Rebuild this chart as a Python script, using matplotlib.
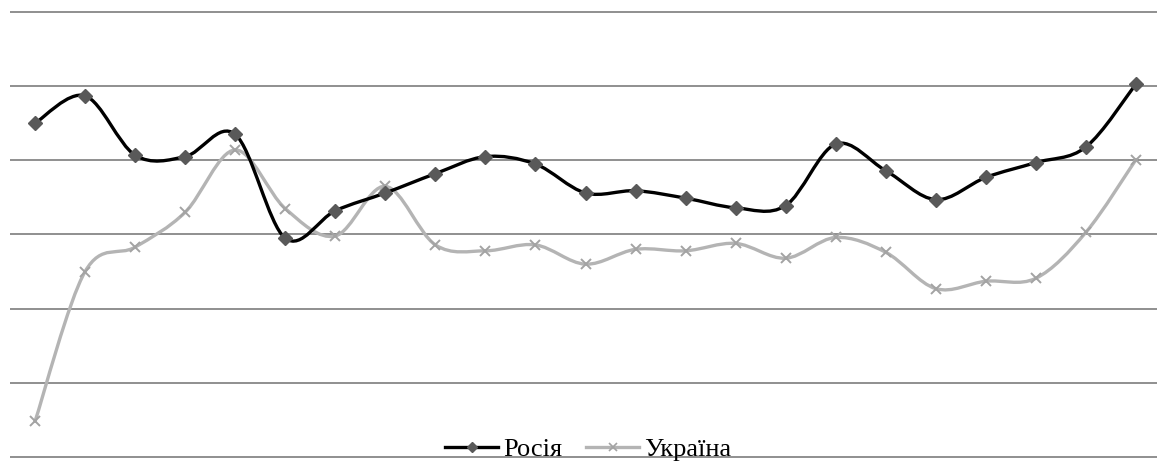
import matplotlib
matplotlib.use("Agg")
import matplotlib.pyplot as plt
import numpy as np
from matplotlib.lines import Line2D
from matplotlib.patches import PathPatch
from matplotlib.path import Path

plt.rcParams["font.family"] = ["Liberation Serif", "DejaVu Serif"]

# values (units = gridline steps, 0 at the bottom line)
periods = list(range(23))
russia = [4.50, 4.87, 4.07, 4.05, 4.35, 2.95, 3.32, 3.56, 3.82, 4.05, 3.95, 3.56,
          3.59, 3.49, 3.36, 3.39, 4.22, 3.86, 3.47, 3.77, 3.97, 4.18, 5.03]
ukraine = [0.48, 2.50, 2.83, 3.30, 4.14, 3.35, 2.98, 3.65, 2.86, 2.78, 2.86, 2.60,
           2.80, 2.78, 2.88, 2.68, 2.96, 2.76, 2.27, 2.37, 2.41, 3.03, 4.01]
labels = ["Росія", "Україна"]

W, H = 1157, 461


def smooth_path(xs, ys):
    # Excel style smoothed line: cubic Bezier through every point
    p = np.column_stack([xs, ys]).astype(float)
    ext = np.vstack([p[0], p, p[-1]])
    verts = [p[0]]
    codes = [Path.MOVETO]
    for i in range(len(p) - 1):
        c1 = ext[i + 1] + (ext[i + 2] - ext[i]) / 6
        c2 = ext[i + 2] - (ext[i + 3] - ext[i + 1]) / 6
        verts += [c1, c2, p[i + 1]]
        codes += [Path.CURVE4] * 3
    return Path(verts, codes)


fig = plt.figure(figsize=(W / 100, H / 100), dpi=100)
pad = 0.05
px_per_unit = (457 - 12) / 6
bottom = (H - 457 - pad * px_per_unit) / H
height = (445 + 2 * pad * px_per_unit) / H
ax = fig.add_axes([10 / W, bottom, 1151 / W, height])
ax.set_xlim(-0.5, 22.5)
ax.set_ylim(-pad, 6 + pad)

ax.set_yticks(range(7))
ax.set_xticks([])
ax.tick_params(length=0, labelleft=False)
ax.grid(axis="y", color="#878787", linewidth=1.3)
ax.set_axisbelow(True)
for s in ax.spines.values():
    s.set_visible(False)

ru_col, ua_col = "#000000", "#b4b4b4"
ax.add_patch(PathPatch(smooth_path(periods, ukraine), fill=False,
                       edgecolor=ua_col, linewidth=2.4, capstyle="round", zorder=2))
ax.plot(periods, ukraine, linestyle="none", marker="x", markersize=7.5,
        markeredgewidth=1.4, color="#a3a3a3", zorder=3)
ax.add_patch(PathPatch(smooth_path(periods, russia), fill=False,
                       edgecolor=ru_col, linewidth=2.4, capstyle="round", zorder=4))
ax.plot(periods, russia, linestyle="none", marker="D", markersize=7,
        color="#595959", zorder=5)

handles = [
    Line2D([], [], color=ru_col, linewidth=2.4, marker="D", markersize=5.5,
           markerfacecolor="#595959", markeredgecolor="#595959"),
    Line2D([], [], color=ua_col, linewidth=2.4, marker="x", markersize=6,
           markeredgewidth=1.2, markeredgecolor="#a3a3a3"),
]
fig.legend(handles, labels, loc="center", ncol=2,
           bbox_to_anchor=(588.5 / W, 12 / H), frameon=False,
           prop={"size": 19},
           handlelength=2.0, handletextpad=0.2, columnspacing=0.9,
           borderpad=0, borderaxespad=0)

fig.savefig("out.png", dpi=100)
